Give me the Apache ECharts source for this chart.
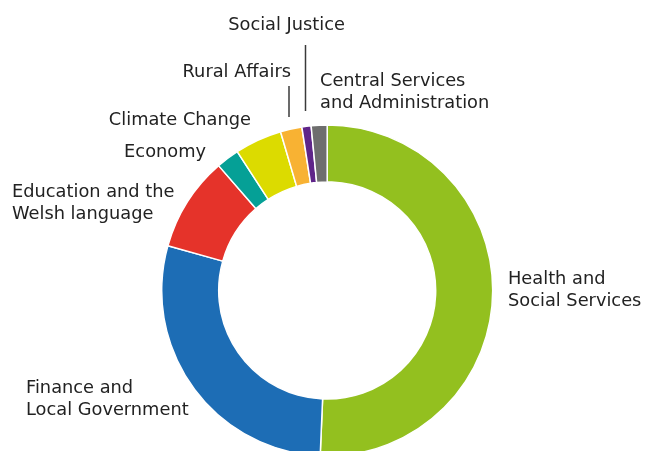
<!DOCTYPE html>
<html>
<head>
<meta charset="utf-8">
<style>
  html, body { margin: 0; padding: 0; background: #ffffff; }
  #chart { width: 645px; height: 451px; }
</style>
<script src="https://cdn.jsdelivr.net/npm/echarts@6/dist/echarts.min.js"></script>
</head>
<body>
<div id="chart"></div>
<script>
// Budget share by portfolio (per cent of total), clockwise from 12 o'clock
const portfolios = [
  'Health and\nSocial Services',
  'Finance and\nLocal Government',
  'Education and the\nWelsh language',
  'Economy',
  'Climate Change',
  'Rural Affairs',
  'Social Justice',
  'Central Services\nand Administration'
];
const shares = [50.7, 28.7, 9.25, 2.25, 4.6, 2.1, 0.9, 1.55];
const colours = ['#93c01f', '#1d6db5', '#e5332a', '#05a096', '#dcdb00', '#f8b233', '#5f2589', '#6e6e6e'];

// Where each label sits: anchor point and alignment
const labelSpots = [
  { x: 508, y: 290, align: 'left' },
  { x: 26, y: 399, align: 'left' },
  { x: 12, y: 203, align: 'left' },
  { x: 206, y: 152, align: 'right' },
  { x: 251, y: 120, align: 'right' },
  { x: 291, y: 72, align: 'right' },
  { x: 345, y: 25, align: 'right' },
  { x: 320, y: 92, align: 'left' }
];
// Short vertical leader lines for the two narrowest slices
const leaders = {
  5: [[289, 86], [289, 101], [289, 117]],
  6: [[305.5, 45], [305.5, 78], [305.5, 111]]
};

const chart = echarts.init(document.getElementById('chart'), null, { renderer: 'canvas' });

chart.setOption({
  animation: false,
  series: [{
    type: 'pie',
    center: [327.2, 290.5],
    radius: [108.5, 165.5],
    startAngle: 90,
    clockwise: true,
    avoidLabelOverlap: false,
    emphasis: { disabled: true },
    itemStyle: { borderColor: '#ffffff', borderWidth: 1.5 },
    label: {
      show: true,
      position: 'outside',
      formatter: '{b}',
      color: '#222222',
      fontFamily: 'DejaVu Sans',
      fontSize: 17.8,
      lineHeight: 22
    },
    labelLine: {
      show: false,
      lineStyle: { color: '#3a3a3a', width: 1.5 }
    },
    labelLayout: function (params) {
      const spot = labelSpots[params.dataIndex];
      const out = {
        x: spot.x,
        y: spot.y,
        align: spot.align,
        verticalAlign: 'middle',
        hideOverlap: false
      };
      if (leaders[params.dataIndex]) {
        out.labelLinePoints = leaders[params.dataIndex];
      }
      return out;
    },
    data: portfolios.map((name, i) => ({
      name: name,
      value: shares[i],
      itemStyle: { color: colours[i] },
      labelLine: { show: !!leaders[i] }
    }))
  }]
});
</script>
</body>
</html>
